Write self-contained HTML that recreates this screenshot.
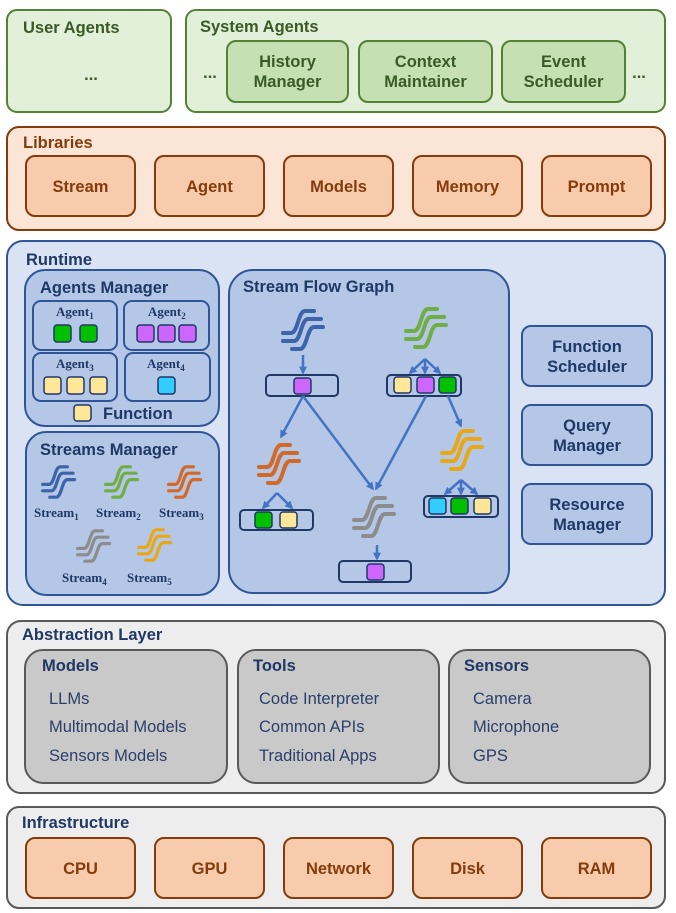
<!DOCTYPE html>
<html><head><meta charset="utf-8"><style>
html,body{margin:0;padding:0;background:#fff}
svg{display:block}
text{font-family:"Liberation Sans",sans-serif;font-weight:bold}
.g{fill:#3a5a28;font-size:16.5px}
.o{fill:#843c0c;font-size:16.5px}
.b{fill:#1f3864;font-size:16.5px}
.n{fill:#2a3f6a;font-size:16.5px;font-weight:normal}
.s{font-family:"Liberation Serif",serif;fill:#1f3864;font-size:13px}
.sq{stroke:#1f3864;stroke-width:1.5}
.bar{fill:#b4c7e7;stroke:#1f3864;stroke-width:2}
.ar{stroke:#4472c4;stroke-width:2.5;fill:none;marker-end:url(#ah)}
</style></head><body>
<svg width="676" height="913" viewBox="0 0 676 913" xmlns="http://www.w3.org/2000/svg">
<defs>
<marker id="ah" viewBox="0 0 10 10" refX="8" refY="5" markerWidth="3.2" markerHeight="3.2" orient="auto"><path d="M0,0L10,5L0,10z" fill="#4472c4"/></marker>
<g id="st" fill="none" stroke-width="4" stroke-linecap="round">
<path d="M2,23 h8 c7,0 7,-22 14,-22 h9"/>
<path d="M2,31 h11 c7,0 7,-22 14,-22 h13"/>
<path d="M11,39 h8 c7,0 7,-22 14,-22 h9"/>
</g>
</defs>

<rect x="7" y="10" width="164" height="102" rx="10" fill="#e2efd9" stroke="#548235" stroke-width="2"/>
<text x="23" y="33" class="g">User Agents</text>
<text x="91" y="80" class="g" text-anchor="middle">...</text>
<rect x="186" y="10" width="479" height="102" rx="10" fill="#e2efd9" stroke="#548235" stroke-width="2"/>
<text x="200" y="32" class="g">System Agents</text>
<text x="210" y="78" class="g" text-anchor="middle">...</text>
<text x="639" y="78" class="g" text-anchor="middle">...</text>
<rect x="227" y="41" width="121" height="61" rx="9" fill="#c5e0b3" stroke="#548235" stroke-width="2"/>
<text x="287.5" y="67" class="g" text-anchor="middle">History</text><text x="287.5" y="87" class="g" text-anchor="middle">Manager</text>
<rect x="359" y="41" width="133" height="61" rx="9" fill="#c5e0b3" stroke="#548235" stroke-width="2"/>
<text x="425.5" y="67" class="g" text-anchor="middle">Context</text><text x="425.5" y="87" class="g" text-anchor="middle">Maintainer</text>
<rect x="502" y="41" width="123" height="61" rx="9" fill="#c5e0b3" stroke="#548235" stroke-width="2"/>
<text x="563.5" y="67" class="g" text-anchor="middle">Event</text><text x="563.5" y="87" class="g" text-anchor="middle">Scheduler</text>

<rect x="7" y="127" width="658" height="103" rx="12" fill="#fbe5d6" stroke="#843c0c" stroke-width="2"/>
<text x="23" y="148" class="o">Libraries</text>
<g class="o" text-anchor="middle">
<rect x="26" y="156" width="109" height="60" rx="9" fill="#f8cbad" stroke="#843c0c" stroke-width="2"/><text x="80.5" y="192">Stream</text>
<rect x="155" y="156" width="109" height="60" rx="9" fill="#f8cbad" stroke="#843c0c" stroke-width="2"/><text x="209.5" y="192">Agent</text>
<rect x="284" y="156" width="109" height="60" rx="9" fill="#f8cbad" stroke="#843c0c" stroke-width="2"/><text x="338.5" y="192">Models</text>
<rect x="413" y="156" width="109" height="60" rx="9" fill="#f8cbad" stroke="#843c0c" stroke-width="2"/><text x="467.5" y="192">Memory</text>
<rect x="542" y="156" width="109" height="60" rx="9" fill="#f8cbad" stroke="#843c0c" stroke-width="2"/><text x="596.5" y="192">Prompt</text>
</g>

<rect x="7" y="241" width="658" height="364" rx="16" fill="#dae3f3" stroke="#2f5597" stroke-width="2"/>
<text x="26" y="265" class="b">Runtime</text>

<rect x="25" y="270" width="194" height="156" rx="20" fill="#b4c7e7" stroke="#2f5597" stroke-width="2"/>
<text x="40" y="293" class="b">Agents Manager</text>
<rect x="33" y="301" width="84" height="49" rx="8" fill="#b4c7e7" stroke="#2f5597" stroke-width="2"/>
<rect x="124" y="301" width="85" height="49" rx="8" fill="#b4c7e7" stroke="#2f5597" stroke-width="2"/>
<rect x="33" y="353" width="84" height="48" rx="8" fill="#b4c7e7" stroke="#2f5597" stroke-width="2"/>
<rect x="125" y="353" width="85" height="48" rx="8" fill="#b4c7e7" stroke="#2f5597" stroke-width="2"/>
<text x="56" y="316" class="s">Agent<tspan font-size="9" dy="3">1</tspan></text>
<text x="148" y="316" class="s">Agent<tspan font-size="9" dy="3">2</tspan></text>
<text x="56" y="368" class="s">Agent<tspan font-size="9" dy="3">3</tspan></text>
<text x="147" y="368" class="s">Agent<tspan font-size="9" dy="3">4</tspan></text>
<rect x="54" y="325" width="17" height="17" rx="3" fill="#00c000" class="sq"/>
<rect x="80" y="325" width="17" height="17" rx="3" fill="#00c000" class="sq"/>
<rect x="137" y="325" width="17" height="17" rx="3" fill="#cc66ff" class="sq"/>
<rect x="158" y="325" width="17" height="17" rx="3" fill="#cc66ff" class="sq"/>
<rect x="179" y="325" width="17" height="17" rx="3" fill="#cc66ff" class="sq"/>
<rect x="44" y="377" width="17" height="17" rx="3" fill="#ffe699" class="sq"/>
<rect x="67" y="377" width="17" height="17" rx="3" fill="#ffe699" class="sq"/>
<rect x="90" y="377" width="17" height="17" rx="3" fill="#ffe699" class="sq"/>
<rect x="158" y="377" width="17" height="17" rx="3" fill="#33ccff" class="sq"/>
<rect x="74" y="405" width="17" height="16" rx="3" fill="#ffe699" class="sq"/>
<text x="103" y="419" class="b" font-size="14">Function</text>

<rect x="26" y="432" width="193" height="163" rx="20" fill="#b4c7e7" stroke="#2f5597" stroke-width="2"/>
<text x="40" y="455" class="b">Streams Manager</text>
<use href="#st" stroke="#3d63a8" transform="translate(41,466) scale(0.8)"/>
<use href="#st" stroke="#70ad47" transform="translate(104,466) scale(0.8)"/>
<use href="#st" stroke="#d0692a" transform="translate(167,466) scale(0.8)"/>
<use href="#st" stroke="#8c8c8c" transform="translate(76,530) scale(0.8)"/>
<use href="#st" stroke="#e6a817" transform="translate(137,529) scale(0.8)"/>
<text x="34" y="517" class="s">Stream<tspan font-size="9" dy="3">1</tspan></text>
<text x="96" y="517" class="s">Stream<tspan font-size="9" dy="3">2</tspan></text>
<text x="159" y="517" class="s">Stream<tspan font-size="9" dy="3">3</tspan></text>
<text x="62" y="582" class="s">Stream<tspan font-size="9" dy="3">4</tspan></text>
<text x="127" y="582" class="s">Stream<tspan font-size="9" dy="3">5</tspan></text>

<rect x="229" y="270" width="280" height="323" rx="24" fill="#b4c7e7" stroke="#2f5597" stroke-width="2"/>
<text x="243" y="292" class="b">Stream Flow Graph</text>
<use href="#st" stroke="#3d63a8" transform="translate(281,310)"/>
<use href="#st" stroke="#70ad47" transform="translate(404,308)"/>
<use href="#st" stroke="#d0692a" transform="translate(257,444)"/>
<use href="#st" stroke="#8c8c8c" transform="translate(352,497)"/>
<use href="#st" stroke="#e6a817" transform="translate(440,430)"/>

<rect x="266" y="375" width="72" height="21" rx="4" class="bar"/>
<rect x="294" y="378" width="17" height="16" rx="3" fill="#cc66ff" class="sq"/>
<rect x="387" y="375" width="74" height="21" rx="4" class="bar"/>
<rect x="394" y="377" width="17" height="16" rx="3" fill="#ffe699" class="sq"/>
<rect x="417" y="377" width="17" height="16" rx="3" fill="#cc66ff" class="sq"/>
<rect x="439" y="377" width="17" height="16" rx="3" fill="#00c000" class="sq"/>
<rect x="240" y="510" width="73" height="20" rx="4" class="bar"/>
<rect x="255" y="512" width="17" height="16" rx="3" fill="#00c000" class="sq"/>
<rect x="280" y="512" width="17" height="16" rx="3" fill="#ffe699" class="sq"/>
<rect x="339" y="561" width="72" height="21" rx="4" class="bar"/>
<rect x="367" y="564" width="17" height="16" rx="3" fill="#cc66ff" class="sq"/>
<rect x="424" y="496" width="74" height="21" rx="4" class="bar"/>
<rect x="429" y="498" width="17" height="16" rx="3" fill="#33ccff" class="sq"/>
<rect x="451" y="498" width="17" height="16" rx="3" fill="#00c000" class="sq"/>
<rect x="474" y="498" width="17" height="16" rx="3" fill="#ffe699" class="sq"/>

<path class="ar" d="M303,355 L303,373"/>
<path class="ar" d="M425,359 L410,373"/>
<path class="ar" d="M425,359 L425,373"/>
<path class="ar" d="M425,359 L440,373"/>
<path class="ar" d="M303,396 L281,437"/>
<path class="ar" d="M303,396 L373,489"/>
<path class="ar" d="M426,396 L376,489"/>
<path class="ar" d="M448,396 L461,426"/>
<path class="ar" d="M277,493 L263,508"/>
<path class="ar" d="M277,493 L292,508"/>
<path class="ar" d="M377,545 L377,559"/>
<path class="ar" d="M461,480 L445,494"/>
<path class="ar" d="M461,480 L461,494"/>
<path class="ar" d="M461,480 L477,494"/>

<g class="b" text-anchor="middle">
<rect x="522" y="326" width="130" height="60" rx="9" fill="#b4c7e7" stroke="#2f5597" stroke-width="2"/><text x="587" y="352">Function</text><text x="587" y="372">Scheduler</text>
<rect x="522" y="405" width="130" height="60" rx="9" fill="#b4c7e7" stroke="#2f5597" stroke-width="2"/><text x="587" y="431">Query</text><text x="587" y="451">Manager</text>
<rect x="522" y="484" width="130" height="60" rx="9" fill="#b4c7e7" stroke="#2f5597" stroke-width="2"/><text x="587" y="510">Resource</text><text x="587" y="530">Manager</text>
</g>

<rect x="7" y="621" width="658" height="172" rx="14" fill="#ededed" stroke="#595959" stroke-width="2"/>
<text x="22" y="640" class="b">Abstraction Layer</text>
<rect x="25" y="650" width="202" height="133" rx="18" fill="#c9c9c9" stroke="#595959" stroke-width="2"/>
<rect x="238" y="650" width="201" height="133" rx="18" fill="#c9c9c9" stroke="#595959" stroke-width="2"/>
<rect x="449" y="650" width="201" height="133" rx="18" fill="#c9c9c9" stroke="#595959" stroke-width="2"/>
<text x="42" y="671" class="b">Models</text>
<text x="253" y="671" class="b">Tools</text>
<text x="464" y="671" class="b">Sensors</text>
<text x="49" y="704" class="n">LLMs</text>
<text x="49" y="732" class="n">Multimodal Models</text>
<text x="49" y="761" class="n">Sensors Models</text>
<text x="259" y="704" class="n">Code Interpreter</text>
<text x="259" y="732" class="n">Common APIs</text>
<text x="259" y="761" class="n">Traditional Apps</text>
<text x="473" y="704" class="n">Camera</text>
<text x="473" y="732" class="n">Microphone</text>
<text x="473" y="761" class="n">GPS</text>

<rect x="7" y="807" width="658" height="101" rx="12" fill="#ededed" stroke="#595959" stroke-width="2"/>
<text x="22" y="828" class="b">Infrastructure</text>
<g class="o" text-anchor="middle">
<rect x="26" y="838" width="109" height="60" rx="9" fill="#f8cbad" stroke="#843c0c" stroke-width="2"/><text x="80.5" y="874">CPU</text>
<rect x="155" y="838" width="109" height="60" rx="9" fill="#f8cbad" stroke="#843c0c" stroke-width="2"/><text x="209.5" y="874">GPU</text>
<rect x="284" y="838" width="109" height="60" rx="9" fill="#f8cbad" stroke="#843c0c" stroke-width="2"/><text x="338.5" y="874">Network</text>
<rect x="413" y="838" width="109" height="60" rx="9" fill="#f8cbad" stroke="#843c0c" stroke-width="2"/><text x="467.5" y="874">Disk</text>
<rect x="542" y="838" width="109" height="60" rx="9" fill="#f8cbad" stroke="#843c0c" stroke-width="2"/><text x="596.5" y="874">RAM</text>
</g>
</svg>
</body></html>
